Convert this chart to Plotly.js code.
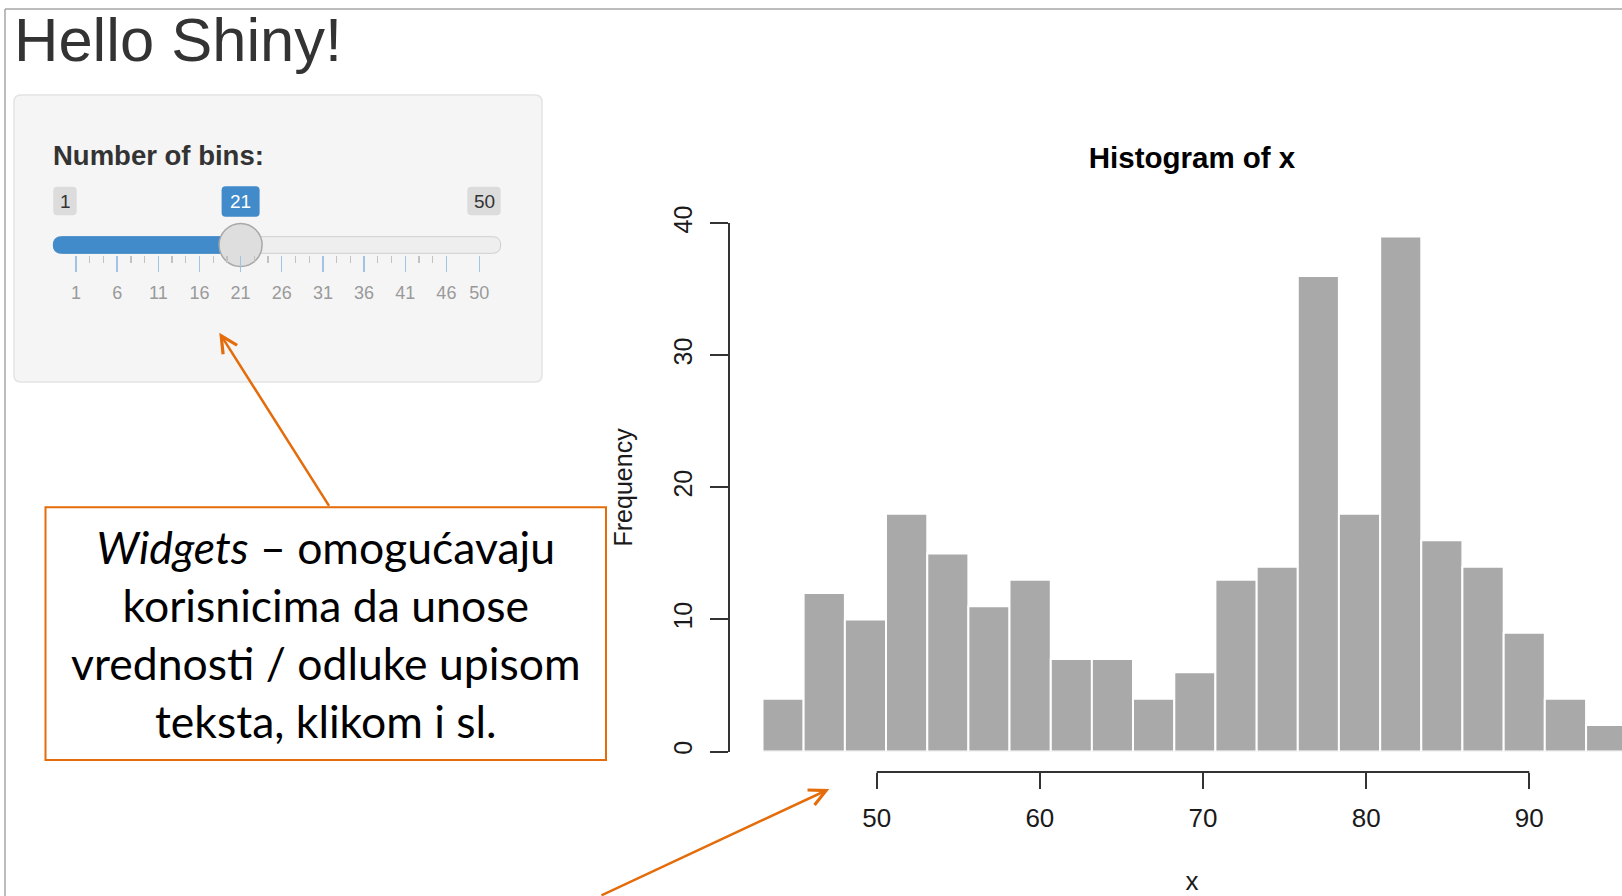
<!DOCTYPE html>
<html>
<head>
<meta charset="utf-8">
<script src="https://cdn.plot.ly/plotly-3.0.1.min.js"></script>
<style>
  html, body { margin: 0; padding: 0; background: #ffffff; }
  #chart { width: 1622px; height: 896px; }
</style>
</head>
<body>
<div id="chart"></div>
<script>
// ---------------- DATA ----------------
// histogram of x (21 bins between min and max)
const binBreaks = [43, 45.52, 48.05, 50.57, 53.10, 55.62, 58.14, 60.67, 63.19, 65.71, 68.24,
                   70.76, 73.29, 75.81, 78.33, 80.86, 83.38, 85.90, 88.43, 90.95, 93.48, 96];
const binCounts = [4, 12, 10, 18, 15, 11, 13, 7, 7, 4, 6, 13, 14, 36, 18, 39, 16, 14, 9, 4, 2];
const xTicks = [50, 60, 70, 80, 90];
const yTicks = [0, 10, 20, 30, 40];

// slider widget ("Number of bins")
const sliderMin = 1;
const sliderMax = 50;
const sliderValue = 21;
const sliderTicks = [1, 6, 11, 16, 21, 26, 31, 36, 41, 46, 50];
const sliderMinorTicks = [2.67, 4.33, 7.67, 9.33, 12.67, 14.33, 17.67, 19.33, 22.67, 24.33,
                          27.67, 29.33, 32.67, 34.33, 37.67, 39.33, 42.67, 44.33];

// texts
const pageTitle = 'Hello Shiny!';
const sliderLabel = 'Number of bins:';
const chartTitle = 'Histogram of x';
const xTitle = 'x';
const yTitle = 'Frequency';
const noteText = '<i>Widgets</i> – omogućavaju<br>korisnicima da unose<br>vrednosti / odluke upisom<br>teksta, klikom i sl.';

// ---------------- LAYOUT HELPERS ----------------
const W = 1622, H = 896;
const px = v => v / W;
const py = v => 1 - v / H;
const ORANGE = '#E46C0A';
const BLUE = '#428bca';
const FONT = 'Liberation Sans, Arial, sans-serif';

// histogram x scale (pixels)
const x50px = 876.7, xPxPerUnit = 16.315;
const xVal = p => 50 + (p - x50px) / xPxPerUnit;
// slider scale (pixels)
const sMinPx = 76, sMaxPx = 479.3;
const sPx = v => sMinPx + (v - sliderMin) * (sMaxPx - sMinPx) / (sliderMax - sliderMin);
const sVal = p => sliderMin + (p - sMinPx) * (sliderMax - sliderMin) / (sMaxPx - sMinPx);

function rrect(x0, y0, x1, y1, r) {
  const X = v => px(v).toFixed(5), Y = v => py(v).toFixed(5);
  return `M${X(x0 + r)},${Y(y0)} L${X(x1 - r)},${Y(y0)} Q${X(x1)},${Y(y0)} ${X(x1)},${Y(y0 + r)} ` +
         `L${X(x1)},${Y(y1 - r)} Q${X(x1)},${Y(y1)} ${X(x1 - r)},${Y(y1)} L${X(x0 + r)},${Y(y1)} ` +
         `Q${X(x0)},${Y(y1)} ${X(x0)},${Y(y1 - r)} L${X(x0)},${Y(y0 + r)} Q${X(x0)},${Y(y0)} ${X(x0 + r)},${Y(y0)} Z`;
}

const mids = binCounts.map((_, i) => (binBreaks[i] + binBreaks[i + 1]) / 2);
const widths = binCounts.map((_, i) => binBreaks[i + 1] - binBreaks[i]);

// ---------------- TRACES ----------------
const bars = {
  type: 'bar', x: mids, y: binCounts, width: widths,
  xaxis: 'x', yaxis: 'y',
  marker: { color: '#A9A9A9', line: { color: '#ffffff', width: 2 } },
  hoverinfo: 'skip', showlegend: false
};
const handle = {
  type: 'scatter', mode: 'markers', x: [sliderValue], y: [0.5],
  xaxis: 'x2', yaxis: 'y2', cliponaxis: false,
  marker: { size: 43, color: '#dedede', line: { color: '#a8a8a8', width: 1.5 } },
  hoverinfo: 'skip', showlegend: false
};

// ---------------- SHAPES ----------------
const shapes = [
  // screenshot frame
  { type: 'line', xref: 'paper', yref: 'paper', x0: px(5), y0: py(9), x1: 1, y1: py(9),
    line: { color: '#a6a6a6', width: 1.5 }, layer: 'below' },
  { type: 'line', xref: 'paper', yref: 'paper', x0: px(5), y0: py(9), x1: px(5), y1: 0,
    line: { color: '#a6a6a6', width: 1.5 }, layer: 'below' },
  // well panel
  { type: 'path', xref: 'paper', yref: 'paper', path: rrect(14, 95, 542, 382, 7),
    fillcolor: '#f5f5f5', line: { color: '#e3e3e3', width: 1.5 }, layer: 'below' },
  // slider track
  { type: 'path', xref: 'paper', yref: 'paper', path: rrect(53.3, 236.7, 500.7, 253.3, 8.3),
    fillcolor: '#eeeeee', line: { color: '#cfcfcf', width: 1 }, layer: 'below' },
  { type: 'path', xref: 'paper', yref: 'paper', path: rrect(53.3, 236.7, sPx(sliderValue), 253.3, 8.3),
    fillcolor: BLUE, line: { color: BLUE, width: 1 }, layer: 'below' },
  // min / max / value label boxes
  { type: 'path', xref: 'paper', yref: 'paper', path: rrect(53.3, 186.7, 76.7, 215.3, 4),
    fillcolor: '#dcdcdc', line: { width: 0 }, layer: 'below' },
  { type: 'path', xref: 'paper', yref: 'paper', path: rrect(467.3, 186.7, 500.7, 215.3, 4),
    fillcolor: '#dcdcdc', line: { width: 0 }, layer: 'below' },
  { type: 'path', xref: 'paper', yref: 'paper', path: rrect(sPx(sliderValue) - 19, 186.3, sPx(sliderValue) + 19, 216.7, 4),
    fillcolor: BLUE, line: { width: 0 }, layer: 'below' },
  // R-style x axis line (from first to last tick)
  { type: 'line', xref: 'x', yref: 'paper', x0: xTicks[0], x1: xTicks[xTicks.length - 1],
    y0: py(772), y1: py(772), line: { color: '#333333', width: 2 } },
  // callout box
  { type: 'rect', xref: 'paper', yref: 'paper', x0: px(45.5), x1: px(606), y0: py(507.3), y1: py(760),
    fillcolor: 'rgba(255,255,255,0)', line: { color: ORANGE, width: 2 } }
];

// ---------------- ANNOTATIONS ----------------
const annotations = [
  { text: pageTitle, xref: 'paper', yref: 'paper', x: px(12), y: py(40), xanchor: 'left', yanchor: 'middle',
    showarrow: false, font: { family: FONT, size: 61.5, color: '#333333' } },
  { text: '<b>' + sliderLabel + '</b>', xref: 'paper', yref: 'paper', x: px(51), y: py(156), xanchor: 'left', yanchor: 'middle',
    showarrow: false, font: { family: FONT, size: 27.5, color: '#333333' } },
  { text: String(sliderMin), xref: 'paper', yref: 'paper', x: px(65), y: py(201), xanchor: 'center', yanchor: 'middle',
    showarrow: false, font: { family: FONT, size: 19, color: '#333333' } },
  { text: String(sliderMax), xref: 'paper', yref: 'paper', x: px(484), y: py(201), xanchor: 'center', yanchor: 'middle',
    showarrow: false, font: { family: FONT, size: 19, color: '#333333' } },
  { text: String(sliderValue), xref: 'paper', yref: 'paper', x: px(sPx(sliderValue)), y: py(201.5), xanchor: 'center', yanchor: 'middle',
    showarrow: false, font: { family: FONT, size: 19, color: '#ffffff' } },
  { text: noteText, xref: 'paper', yref: 'paper', x: px(326), y: py(633), xanchor: 'center', yanchor: 'middle',
    align: 'center', showarrow: false, font: { family: 'Lato, sans-serif', size: 44.5, color: '#000000' } },
  // arrows
  { text: '', xref: 'paper', yref: 'paper', x: px(219.3), y: py(332.7), ax: 110.7, ay: 174.6,
    showarrow: true, arrowhead: 5, arrowsize: 1.3, arrowwidth: 2.5, arrowcolor: ORANGE, font: { size: 1 } },
  { text: '', xref: 'paper', yref: 'paper', x: px(829.3), y: py(789), ax: -229.3, ay: 114,
    showarrow: true, arrowhead: 5, arrowsize: 1.3, arrowwidth: 2.5, arrowcolor: ORANGE, font: { size: 1 } }
];

// ---------------- LAYOUT ----------------
const layout = {
  width: W, height: H,
  margin: { l: 0, r: 0, t: 0, b: 0 },
  paper_bgcolor: '#ffffff', plot_bgcolor: 'rgba(0,0,0,0)',
  showlegend: false,
  title: { text: '<b>' + chartTitle + '</b>', x: px(1192), y: py(158), xanchor: 'center', yanchor: 'middle',
           font: { family: FONT, size: 29.5, color: '#000000' } },
  xaxis: {
    domain: [px(762), 1], range: [xVal(762), xVal(W)],
    anchor: 'free', position: py(772),
    tickmode: 'array', tickvals: xTicks, ticktext: xTicks.map(String),
    ticks: 'outside', ticklen: 16, tickwidth: 2, tickcolor: '#333333',
    tickfont: { family: FONT, size: 26, color: '#1a1a1a' }, ticklabelstandoff: 7,
    showline: false, showgrid: false, zeroline: false, fixedrange: true, automargin: false,
    title: { text: xTitle, font: { family: FONT, size: 26, color: '#1a1a1a' }, standoff: 40 }
  },
  yaxis: {
    domain: [py(751.5), py(223.3)], range: [0, 40],
    anchor: 'free', position: px(728.7),
    tickmode: 'array', tickvals: yTicks, ticktext: yTicks.map(String), tickangle: -90,
    ticks: 'outside', ticklen: 18, tickwidth: 2, tickcolor: '#333333',
    tickfont: { family: FONT, size: 25, color: '#1a1a1a' }, ticklabelstandoff: 8,
    showline: true, linewidth: 2, linecolor: '#333333',
    showgrid: false, zeroline: false, fixedrange: true, automargin: false,
    title: { text: yTitle, font: { family: FONT, size: 25, color: '#1a1a1a' }, standoff: 28 }
  },
  xaxis2: {
    domain: [px(53.3), px(500.7)], range: [sVal(53.3), sVal(500.7)],
    anchor: 'y2', side: 'bottom',
    tickmode: 'array', tickvals: sliderTicks, ticktext: sliderTicks.map(String),
    ticks: 'outside', ticklen: 16, tickwidth: 1.4, tickcolor: '#a3c3e6',
    tickfont: { family: FONT, size: 18, color: '#9a9a9a' }, ticklabelstandoff: 5,
    minor: { tickmode: 'array', tickvals: sliderMinorTicks, ticks: 'outside', ticklen: 7,
             tickwidth: 1.3, tickcolor: '#c2c2c2', showgrid: false },
    showline: false, showgrid: false, zeroline: false, fixedrange: true, automargin: false
  },
  yaxis2: {
    domain: [py(255), py(235)], range: [0, 1], anchor: 'x2', visible: false, fixedrange: true
  },
  shapes: shapes,
  annotations: annotations
};

Plotly.newPlot('chart', [bars, handle], layout, { staticPlot: true, displayModeBar: false });
</script>
</body>
</html>
